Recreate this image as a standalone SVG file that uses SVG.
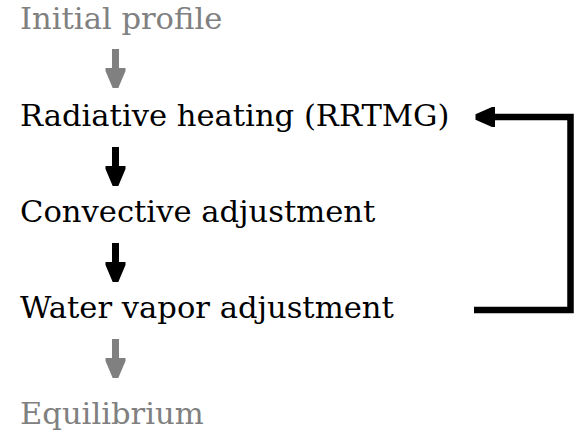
<svg xmlns="http://www.w3.org/2000/svg" width="576" height="432" viewBox="0 0 576 432">
  <defs>
    <style>
      .label { font-family: "DejaVu Serif", "Liberation Serif", serif; font-size: 30.6px; }
      .main { fill: #000000; }
      .faded { fill: #808080; }
      .feedback { fill: none; stroke: #000000; stroke-width: 6.5; stroke-linejoin: miter; }
    </style>
    <!-- downward block arrow, origin at top centre of the shaft -->
    <polygon id="down-arrow" points="-3.5,0 3.5,0 3.5,19 10,19 10,22 2.8,39 -2.8,39 -10,22 -10,19 -3.5,19"/>
  </defs>

  <rect width="576" height="432" fill="#ffffff"/>

  <g id="initial-profile">
    <text class="label faded" x="20" y="29">Initial profile</text>
  </g>
  <g id="radiative-heating">
    <text class="label main" x="20" y="126">Radiative heating (RRTMG)</text>
  </g>
  <g id="convective-adjustment">
    <text class="label main" x="20" y="222">Convective adjustment</text>
  </g>
  <g id="water-vapor-adjustment">
    <text class="label main" x="20" y="318">Water vapor adjustment</text>
  </g>
  <g id="equilibrium">
    <text class="label faded" x="20" y="424">Equilibrium</text>
  </g>

  <g id="connectors">
    <use href="#down-arrow" x="115.5" y="49" class="faded"/>
    <use href="#down-arrow" x="115.5" y="147" class="main"/>
    <use href="#down-arrow" x="115.5" y="243" class="main"/>
    <use href="#down-arrow" x="115.5" y="339" class="faded"/>

    <!-- loop from water vapour back to radiative heating -->
    <path class="feedback" d="M474,310 H570.5 V117 H492"/>
    <polygon points="495,107 492,107 475.5,114.2 475.5,119.8 492,127 495,127" fill="#000000"/>
  </g>
</svg>
